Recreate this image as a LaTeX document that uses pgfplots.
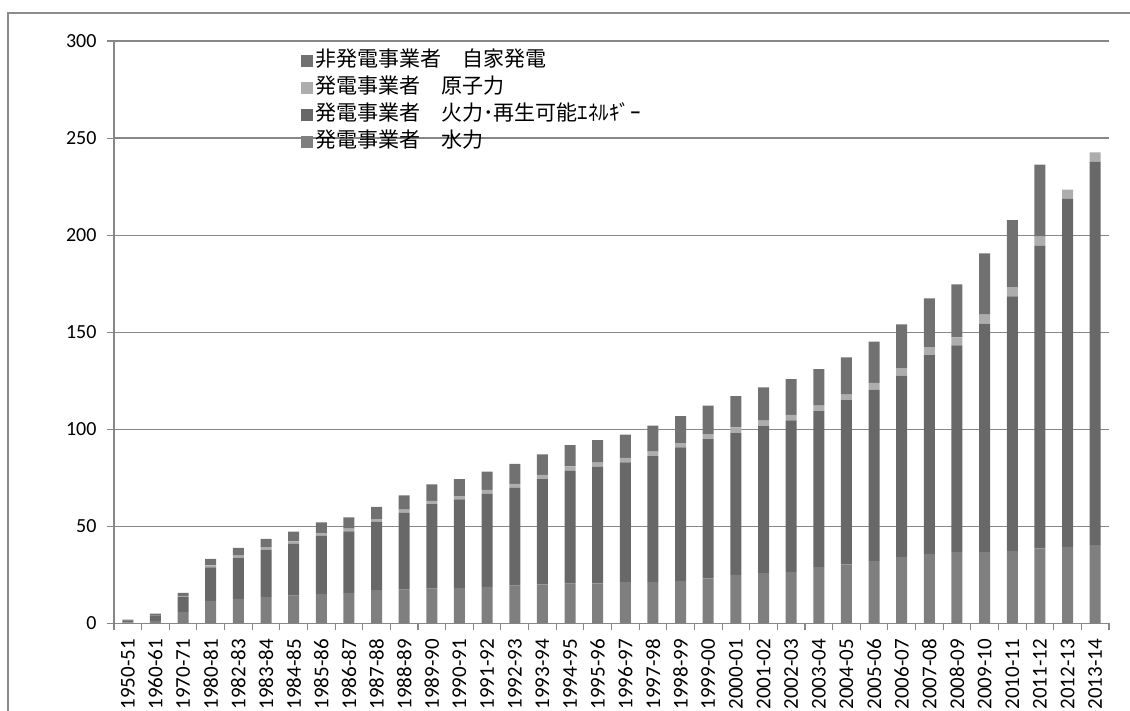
\documentclass[border=0pt]{standalone}
\usepackage{fontspec}
\setmainfont{Carlito}
\newfontfamily\jp{Noto Sans CJK JP}
\usepackage{pgfplots}
\pgfplotsset{compat=1.18}
\usepackage{pgfplotstable}
\definecolor{hydro}{HTML}{7F7F7F}
\definecolor{thermal}{HTML}{686868}
\definecolor{nuclear}{HTML}{ADADAD}
\definecolor{captive}{HTML}{717171}
\definecolor{gridc}{HTML}{878787}
\definecolor{framec}{HTML}{8C8C8C}

\pgfplotstableread{
idx hydro thermal nuclear captive
0  0.6  1.0   0.0  0.4
1  1.4  2.8   0.0  0.9
2  5.8  7.9   0.5  1.6
3  11.6 17.3  1.0  3.4
4  12.7 21.2  1.1  3.9
5  13.7 24.4  1.2  4.3
6  14.3 26.7  1.3  5.0
7  15.3 29.8  1.4  5.6
8  15.8 31.6  1.5  5.8
9  17.2 35.1  1.5  6.2
10 17.4 39.6  1.6  7.4
11 17.9 43.6  1.7  8.5
12 18.4 45.5  1.7  8.8
13 18.9 47.9  2.0  9.4
14 19.5 50.3  2.1  10.3
15 20.2 54.1  2.2  10.6
16 20.5 58.1  2.3  11.0
17 20.6 60.0  2.3  11.6
18 21.3 61.7  2.3  12.0
19 21.4 64.8  2.3  13.4
20 21.9 68.8  2.2  13.9
21 23.3 71.6  2.6  14.7
22 25.0 73.1  2.9  16.1
23 25.9 75.8  2.8  17.1
24 26.5 78.1  2.8  18.5
25 29.0 80.4  2.8  18.8
26 30.5 84.6  2.8  19.1
27 32.2 88.3  3.4  21.3
28 34.3 93.3  3.9  22.6
29 35.8 102.4 4.1  25.2
30 36.7 106.5 4.1  27.4
31 36.7 117.8 4.6  31.5
32 37.4 131.1 4.8  34.4
33 38.7 155.8 4.8  37.0
34 39.4 179.3 4.8  0.0
35 40.3 197.5 4.8  0.0
}\data

\pgfplotsset{sqlegend/.style={legend image code/.code={\fill[##1] (0pt,-6.3pt) rectangle (12.6pt,6.3pt);}}}

\begin{document}
\begin{tikzpicture}[x=1pt,y=1pt]
\useasboundingbox (0,0) rectangle (1130,711);
\draw[color=framec, line width=1.2pt] (8,0) -- (8,698) -- (1130,698);
\begin{axis}[
  at={(114pt,87.5pt)}, anchor=south west,
  scale only axis, width=995pt, height=582.5pt,
  ybar stacked, bar width=11pt,
  xmin=-0.5, xmax=35.5, ymin=0, ymax=300,
  ytick={0,50,...,300},
  xtick={-0.5,0.5,...,35.5},
  x tick label as interval,
  xticklabels={1950-51,1960-61,1970-71,1980-81,1982-83,1983-84,1984-85,1985-86,1986-87,1987-88,1988-89,1989-90,1990-91,1991-92,1992-93,1993-94,1994-95,1995-96,1996-97,1997-98,1998-99,1999-00,2000-01,2001-02,2002-03,2003-04,2004-05,2005-06,2006-07,2007-08,2008-09,2009-10,2010-11,2011-12,2012-13,2013-14},
  tick align=outside,
  major tick length=7pt,
  axis lines*=left,
  axis line style={color=gridc, line width=1.3pt},
  ymajorgrids,
  grid style={color=gridc, line width=1.3pt},
  tick style={color=gridc, line width=1.1pt},
  tick label style={text=black},
  /pgf/number format/assume math mode=true,
  yticklabel style={font=\fontsize{20}{21}\selectfont, xshift=-7pt},
  xticklabel style={rotate=90, anchor=east, inner xsep=8.5pt, font=\fontsize{21}{22}\selectfont},
  legend style={at={(0.1876,0.989)}, anchor=north west, draw=none, fill=none,
    inner sep=0pt, font=\jp\fontsize{21}{22}\selectfont,
    nodes={inner sep=2pt, text height=17pt, text depth=6pt},
    row sep=0pt},
  legend cell align=left,
  reverse legend,
]
\addplot[fill=hydro, draw=none, sqlegend] table[x=idx, y=hydro] {\data};
\addlegendentry{発電事業者　水力}
\addplot[fill=thermal, draw=none, sqlegend] table[x=idx, y=thermal] {\data};
\addlegendentry{発電事業者　火力･再生可能ｴﾈﾙｷﾞｰ}
\addplot[fill=nuclear, draw=none, sqlegend] table[x=idx, y=nuclear] {\data};
\addlegendentry{発電事業者　原子力}
\addplot[fill=captive, draw=none, sqlegend] table[x=idx, y=captive] {\data};
\addlegendentry{非発電事業者　自家発電}
\end{axis}
\end{tikzpicture}
\end{document}
